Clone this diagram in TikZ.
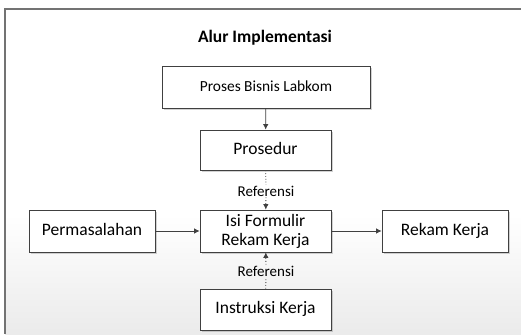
\documentclass[tikz,border=0pt]{standalone}
\usepackage{fontspec}
\setmainfont{Carlito}
\usetikzlibrary{arrows.meta,shadows}

\begin{document}
\begin{tikzpicture}[
  x=1pt, y=-1pt,
  every node/.style={
    inner sep=1pt,
    text=black
  },
  box/.style={
    draw=black!75,
    line width=0.8pt,
    fill=white,
    minimum width=131pt,
    minimum height=41pt,
    font=\fontsize{17.5}{19}\selectfont,
    drop shadow={opacity=0.35, shadow xshift=1.6pt, shadow yshift=-1.6pt}
  },
  oneline/.style={text height=12pt, text depth=3.5pt},
  refer/.style={font=\fontsize{15}{17}\selectfont},
  flow/.style={draw=black!75, line width=0.8pt, -{Latex[length=5.5pt,width=5.5pt]}},
  refline/.style={draw=black!75, line width=0.8pt, dotted}
]
\useasboundingbox (0,0) rectangle (521,334);
% frame
\fill[white] (0,0) rectangle (521,334);
\shade[top color=white, bottom color=black!8] (5,215) rectangle (521,334);
\draw[black!55, line width=1.2pt] (521,9) -- (5,9) -- (5,334);

\node[font=\bfseries\fontsize{17.5}{19}\selectfont] (judul) at (265,38) {Alur Implementasi};
\node[box, oneline, minimum width=208pt, minimum height=42pt, font=\fontsize{15.4}{18}\selectfont] (bisnis) at (266,87) {Proses Bisnis Labkom};
\node[box, oneline, minimum height=40pt] (prosedur) at (265.5,150) {Prosedur};
\node[refer] (ref1) at (266,191) {Referensi};
\node[box, align=center, minimum height=42pt] (isi) at (265.5,231) {Isi Formulir\\Rekam Kerja};
\node[box, oneline, minimum width=126pt, minimum height=42pt] (masalah) at (92,231) {Permasalahan};
\node[box, oneline, minimum width=126pt, minimum height=42pt] (rekam) at (445,231) {Rekam Kerja};
\node[refer] (ref2) at (266,271) {Referensi};
\node[box, oneline] (instruksi) at (265.5,309.5) {Instruksi Kerja};

\draw[flow] (bisnis) -- (prosedur);
\draw[refline] (prosedur) -- (ref1);
\draw[refline, -{Latex[length=5.5pt,width=5.5pt]}] (ref1) -- (isi);
\draw[flow] (masalah) -- (isi);
\draw[flow] (isi) -- (rekam);
\draw[refline] (instruksi) -- (ref2);
\draw[refline, -{Latex[length=5.5pt,width=5.5pt]}] (ref2) -- (isi);
\end{tikzpicture}
\end{document}
